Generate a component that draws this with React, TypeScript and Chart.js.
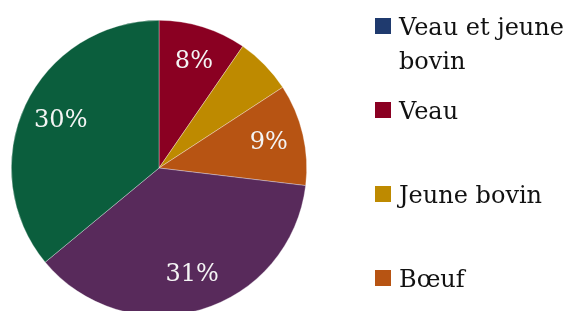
import React, { useEffect, useRef } from "react";
import { Chart, registerables } from "chart.js";
Chart.register(...registerables);

const categories = ["Veau et jeune bovin", "Veau", "Jeune bovin", "Bœuf", "Vache", "Génisse"];
const shares = [0, 9.6, 6.2, 11.1, 37.1, 36.0];
const valueLabels = ["", "8%", "", "9%", "31%", "30%"];
const colors = ["#1F3A6E", "#8A0022", "#BE8A00", "#B75413", "#582A5B", "#0B5E3D"];

const FONT = "'DejaVu Serif', 'Liberation Serif', serif";

const sliceLabels = {
  id: "sliceLabels",
  afterDatasetsDraw(chart: any) {
    const ctx = chart.ctx;
    const meta = chart.getDatasetMeta(0);
    ctx.save();
    ctx.fillStyle = "#f4f4f4";
    ctx.font = `24px ${FONT}`;
    ctx.textAlign = "center";
    ctx.textBaseline = "middle";
    meta.data.forEach((arc: any, i: number) => {
      const t = valueLabels[i];
      if (!t) return;
      const p = arc.getProps(["x", "y", "startAngle", "endAngle", "outerRadius"], true);
      const mid = (p.startAngle + p.endAngle) / 2;
      const r = p.outerRadius * 0.75;
      ctx.fillText(t, p.x + Math.cos(mid) * r + 2, p.y + Math.sin(mid) * r);
    });
    ctx.restore();
  },
};

const sideLegend = {
  id: "sideLegend",
  afterDraw(chart: any) {
    const ctx = chart.ctx;
    ctx.save();
    ctx.font = `24px ${FONT}`;
    ctx.textBaseline = "alphabetic";
    ctx.textAlign = "left";
    const boxX = 375;
    const textX = 399;
    const maxW = chart.width - textX - 2;
    categories.forEach((name, i) => {
      const cy = 26 + 84 * i;
      ctx.fillStyle = colors[i];
      ctx.fillRect(boxX, cy - 8, 16, 16);
      const words = name.split(" ");
      const lines: string[] = [];
      let cur = "";
      words.forEach((w) => {
        const test = cur ? cur + " " + w : w;
        if (ctx.measureText(test).width > maxW && cur) {
          lines.push(cur);
          cur = w;
        } else cur = test;
      });
      if (cur) lines.push(cur);
      ctx.fillStyle = "#111111";
      lines.forEach((ln, j) => ctx.fillText(ln, textX, cy + 9 + j * 34));
    });
    ctx.restore();
  },
};

export default function App() {
  const ref = useRef<HTMLCanvasElement>(null);
  useEffect(() => {
    document.body.style.margin = "0";
    const chart = new Chart(ref.current!, {
      type: "pie",
      data: {
        labels: categories,
        datasets: [
          {
            data: shares,
            backgroundColor: colors,
            borderColor: "rgba(255,255,255,0.55)",
            borderWidth: 0.6,
          },
        ],
      },
      options: {
        responsive: false,
        animation: false,
        layout: { padding: { left: 11, top: 20, right: 262, bottom: 14 } },
        plugins: { legend: { display: false }, tooltip: { enabled: false } },
      },
      plugins: [sliceLabels, sideLegend],
    });
    return () => chart.destroy();
  }, []);
  return (
    <div style={{ position: "relative", width: 569, height: 311, overflow: "hidden", background: "#fff" }}>
      <canvas ref={ref} width={569} height={330} style={{ display: "block" }} />
    </div>
  );
}
